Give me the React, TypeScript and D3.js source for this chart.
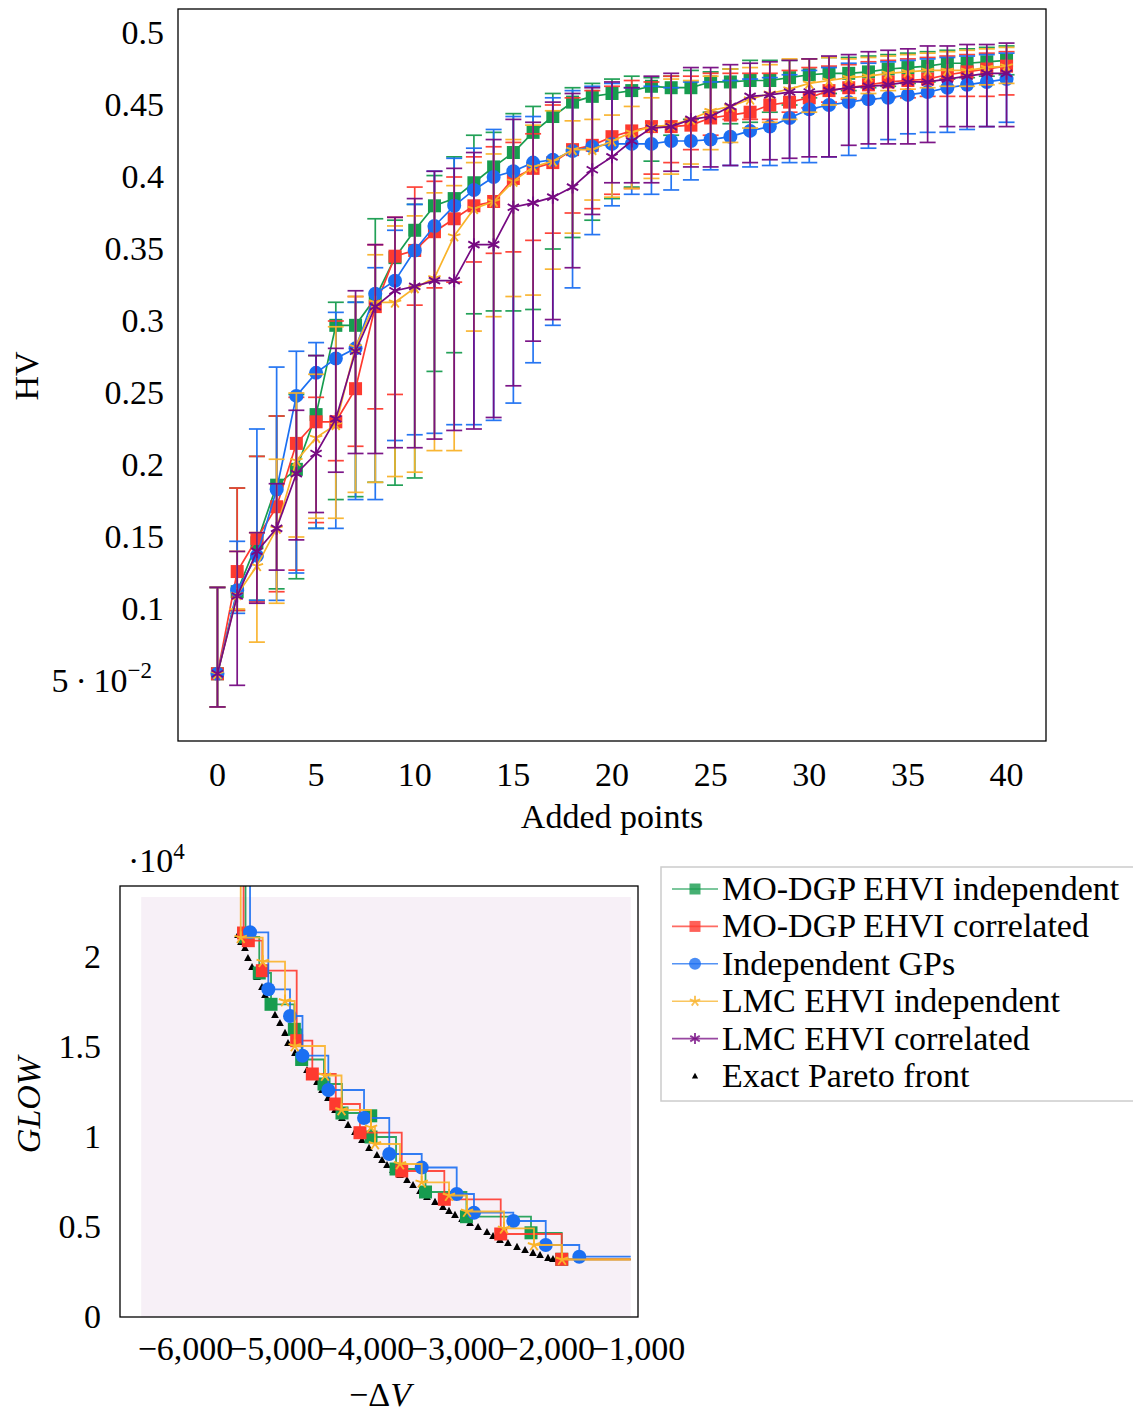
import React from "react";
import * as d3 from "d3";

// ---------- Top chart data (HV vs added points) ----------
const addedPoints = [0,1,2,3,4,5,6,7,8,9,10,11,12,13,14,15,16,17,18,19,20,21,22,23,24,25,26,27,28,29,30,31,32,33,34,35,36,37,38,39,40];

const dgpIndepMean = [0.055,0.112,0.146,0.186,0.197,0.235,0.297,0.297,0.316,0.344,0.363,0.380,0.385,0.396,0.407,0.417,0.431,0.442,0.452,0.456,0.458,0.460,0.463,0.462,0.462,0.466,0.466,0.467,0.467,0.469,0.471,0.472,0.472,0.473,0.475,0.476,0.477,0.479,0.479,0.480,0.481];
const dgpIndepLow = [0.032,0.099,0.106,0.114,0.121,0.156,0.176,0.178,0.188,0.186,0.191,0.265,0.278,0.305,0.307,0.307,0.308,0.350,0.358,0.370,0.385,0.393,0.411,0.429,0.440,0.445,0.437,0.438,0.445,0.450,0.455,0.458,0.460,0.462,0.463,0.465,0.466,0.468,0.469,0.470,0.471];
const dgpIndepUp = [0.115,0.184,0.206,0.234,0.249,0.276,0.313,0.313,0.371,0.370,0.381,0.401,0.414,0.429,0.431,0.444,0.449,0.458,0.462,0.465,0.468,0.470,0.469,0.470,0.474,0.473,0.475,0.481,0.481,0.481,0.482,0.483,0.483,0.484,0.485,0.486,0.487,0.488,0.489,0.490,0.491];

const dgpCorrMean = [0.055,0.126,0.149,0.171,0.215,0.230,0.230,0.253,0.310,0.345,0.349,0.362,0.371,0.380,0.383,0.399,0.406,0.410,0.419,0.422,0.428,0.432,0.435,0.435,0.436,0.441,0.443,0.445,0.450,0.452,0.455,0.460,0.462,0.464,0.466,0.467,0.468,0.471,0.473,0.475,0.477];
const dgpCorrLow = [0.032,0.099,0.105,0.112,0.127,0.160,0.203,0.213,0.239,0.249,0.311,0.323,0.327,0.341,0.347,0.348,0.356,0.361,0.375,0.378,0.388,0.392,0.402,0.410,0.419,0.429,0.440,0.440,0.440,0.445,0.448,0.452,0.454,0.454,0.455,0.455,0.456,0.456,0.456,0.456,0.457];
const dgpCorrUp = [0.115,0.184,0.206,0.234,0.247,0.247,0.300,0.317,0.353,0.372,0.393,0.397,0.400,0.414,0.421,0.424,0.430,0.450,0.455,0.460,0.463,0.467,0.466,0.470,0.470,0.472,0.472,0.472,0.472,0.474,0.476,0.477,0.478,0.480,0.481,0.482,0.483,0.484,0.485,0.486,0.487];

const indepGpMean = [0.055,0.113,0.137,0.183,0.248,0.264,0.274,0.281,0.319,0.328,0.349,0.366,0.380,0.391,0.400,0.404,0.410,0.412,0.418,0.421,0.423,0.423,0.423,0.425,0.425,0.426,0.428,0.432,0.435,0.441,0.447,0.450,0.452,0.454,0.455,0.457,0.459,0.462,0.464,0.466,0.468];
const indepGpLow = [0.032,0.097,0.106,0.106,0.125,0.156,0.156,0.176,0.176,0.217,0.221,0.222,0.228,0.228,0.231,0.243,0.271,0.297,0.323,0.360,0.380,0.388,0.388,0.391,0.398,0.405,0.408,0.407,0.408,0.410,0.410,0.414,0.415,0.420,0.426,0.430,0.431,0.431,0.433,0.435,0.438];
const indepGpUp = [0.115,0.147,0.225,0.268,0.279,0.285,0.306,0.313,0.337,0.363,0.381,0.404,0.413,0.420,0.433,0.442,0.442,0.455,0.460,0.463,0.465,0.462,0.463,0.462,0.466,0.466,0.467,0.468,0.469,0.471,0.474,0.476,0.479,0.479,0.480,0.481,0.482,0.483,0.484,0.485,0.486];

const lmcIndepMean = [0.055,0.110,0.130,0.156,0.203,0.219,0.228,0.282,0.313,0.313,0.323,0.330,0.359,0.378,0.383,0.397,0.407,0.411,0.419,0.419,0.425,0.431,0.435,0.436,0.440,0.446,0.449,0.454,0.458,0.461,0.465,0.467,0.469,0.470,0.472,0.473,0.474,0.474,0.474,0.476,0.477];
const lmcIndepLow = [0.032,0.100,0.077,0.104,0.150,0.163,0.163,0.181,0.188,0.192,0.195,0.210,0.210,0.293,0.303,0.317,0.318,0.336,0.361,0.384,0.386,0.392,0.399,0.402,0.409,0.419,0.424,0.434,0.438,0.440,0.445,0.450,0.455,0.458,0.460,0.461,0.462,0.463,0.463,0.464,0.465];
const lmcIndepUp = [0.115,0.140,0.153,0.204,0.250,0.263,0.296,0.317,0.346,0.366,0.373,0.389,0.394,0.410,0.416,0.426,0.436,0.446,0.439,0.440,0.443,0.449,0.455,0.468,0.467,0.470,0.475,0.476,0.478,0.482,0.482,0.483,0.482,0.483,0.484,0.485,0.486,0.487,0.488,0.489,0.490];

const lmcCorrMean = [0.055,0.109,0.140,0.156,0.194,0.208,0.232,0.279,0.310,0.321,0.324,0.328,0.328,0.353,0.353,0.379,0.382,0.386,0.393,0.405,0.414,0.425,0.434,0.435,0.440,0.442,0.449,0.456,0.457,0.459,0.459,0.460,0.462,0.463,0.464,0.466,0.466,0.468,0.470,0.472,0.472];
const lmcCorrLow = [0.032,0.047,0.104,0.127,0.148,0.167,0.195,0.208,0.208,0.212,0.212,0.218,0.224,0.225,0.233,0.255,0.286,0.301,0.337,0.374,0.396,0.396,0.396,0.404,0.407,0.407,0.408,0.410,0.412,0.413,0.414,0.414,0.422,0.423,0.423,0.423,0.424,0.435,0.435,0.435,0.435];
const lmcCorrUp = [0.115,0.140,0.153,0.187,0.238,0.276,0.281,0.321,0.353,0.372,0.385,0.404,0.406,0.417,0.426,0.440,0.438,0.452,0.458,0.462,0.466,0.462,0.470,0.472,0.476,0.476,0.478,0.479,0.480,0.481,0.482,0.484,0.485,0.487,0.488,0.489,0.491,0.491,0.492,0.492,0.493];

const topXTicks = [0,5,10,15,20,25,30,35,40];
const topYTicks = [0.05,0.1,0.15,0.2,0.25,0.3,0.35,0.4,0.45,0.5];
const topYTickLabels = ["5·10-2","0.1","0.15","0.2","0.25","0.3","0.35","0.4","0.45","0.5"];

// ---------- Bottom chart data (Pareto fronts) ----------
const dgpIndepDV = [-5336,-5184,-5054,-4796,-4715,-4468,-4269,-3951,-3948,-3671,-3345,-2892,-2178,-1838];
const dgpIndepGLOW = [21111,19111,17372,15983,14306,12944,11333,11178,10000,8222,6944,5572,4678,3206];

const dgpCorrDV = [-5358,-5305,-5150,-4770,-4597,-4338,-4070,-3608,-3137,-2513,-1838];
const dgpCorrGLOW = [21333,20906,19239,15350,13500,11833,10239,8111,6539,4611,3206];

const indepGpDV = [-5286,-5084,-4844,-4706,-4420,-4025,-3746,-3387,-3000,-2809,-2374,-2015,-1644];
const indepGpGLOW = [21372,18206,16722,14517,12611,11056,9056,8306,6833,5794,5333,4000,3350];

const lmcIndepDV = [-5389,-5146,-4899,-4792,-4457,-4274,-3948,-3904,-3627,-3387,-3085,-2886,-2477,-2145,-1835];
const lmcIndepGLOW = [21072,19739,17556,15056,13417,11500,10539,9611,8500,7483,6750,5861,4928,4000,3194];

const paretoDV = [-5419,-5386,-5342,-5309,-5264,-5209,-5154,-5121,-5065,-5010,-4955,-4899,-4866,-4789,-4711,-4656,-4590,-4545,-4490,-4424,-4346,-4269,-4202,-4125,-4048,-3970,-3882,-3826,-3771,-3705,-3627,-3550,-3483,-3406,-3329,-3240,-3152,-3085,-3019,-2941,-2853,-2764,-2665,-2598,-2521,-2433,-2333,-2244,-2156,-2078,-1990,-1935];
const paretoGLOW = [21222,20833,20500,19944,19444,18889,18333,17889,17278,16778,16333,15778,15222,14667,14167,13722,13333,13056,12611,12167,11500,11056,10667,10278,9833,9389,9000,8722,8444,8167,7889,7611,7333,7000,6667,6389,6111,5889,5667,5444,5222,5000,4722,4500,4278,4111,3889,3722,3556,3444,3278,3222];

const refPoint = [-1075, 23330];
const bottomXTicks = [-6000,-5000,-4000,-3000,-2000,-1000];
const bottomYTicks = [0,5000,10000,15000,20000];
const bottomYTickLabels = ["0","0.5","1","1.5","2"];

const COLORS = {
  green: "#179c4f",
  red: "#fe3a2f",
  blue: "#1b6ff2",
  yellow: "#f9b32a",
  purple: "#760a82",
};

const FONT = "'Liberation Serif', 'Times New Roman', serif";
const FS = 34;

type MarkerKind = "square" | "circle" | "star" | "asterisk" | "triangle";

function Marker({ kind, x, y, color, size = 12 }: { kind: MarkerKind; x: number; y: number; color: string; size?: number }) {
  const h = size / 2;
  if (kind === "square") return <rect x={x - h} y={y - h} width={size} height={size} fill={color} />;
  if (kind === "circle") return <circle cx={x} cy={y} r={h + 0.5} fill={color} />;
  if (kind === "triangle") {
    return <path d={`M${x},${y - h * 0.75}L${x + h * 0.7},${y + h * 0.55}L${x - h * 0.7},${y + h * 0.55}Z`} fill="#000" />;
  }
  if (kind === "star") {
    let d = "";
    for (let k = 0; k < 5; k++) {
      const a = -Math.PI / 2 + (k * 2 * Math.PI) / 5;
      d += `M${x},${y}L${x + h * Math.cos(a)},${y + h * Math.sin(a)}`;
    }
    return <path d={d} stroke={color} strokeWidth={1.9} fill="none" />;
  }
  let d = "";
  for (let k = 0; k < 3; k++) {
    const a = -Math.PI / 2 + (k * Math.PI) / 3;
    d += `M${x - h * Math.cos(a)},${y - h * Math.sin(a)}L${x + h * Math.cos(a)},${y + h * Math.sin(a)}`;
  }
  return <path d={d} stroke={color} strokeWidth={1.9} fill="none" />;
}

const topSeries = [
  { name: "MO-DGP EHVI independent", color: COLORS.green, marker: "square" as MarkerKind, mean: dgpIndepMean, low: dgpIndepLow, up: dgpIndepUp },
  { name: "MO-DGP EHVI correlated", color: COLORS.red, marker: "square" as MarkerKind, mean: dgpCorrMean, low: dgpCorrLow, up: dgpCorrUp },
  { name: "Independent GPs", color: COLORS.blue, marker: "circle" as MarkerKind, mean: indepGpMean, low: indepGpLow, up: indepGpUp },
  { name: "LMC EHVI independent", color: COLORS.yellow, marker: "star" as MarkerKind, mean: lmcIndepMean, low: lmcIndepLow, up: lmcIndepUp },
  { name: "LMC EHVI correlated", color: COLORS.purple, marker: "asterisk" as MarkerKind, mean: lmcCorrMean, low: lmcCorrLow, up: lmcCorrUp },
];

const bottomSeries = [
  { color: COLORS.green, marker: "square" as MarkerKind, dv: dgpIndepDV, glow: dgpIndepGLOW },
  { color: COLORS.red, marker: "square" as MarkerKind, dv: dgpCorrDV, glow: dgpCorrGLOW },
  { color: COLORS.blue, marker: "circle" as MarkerKind, dv: indepGpDV, glow: indepGpGLOW },
  { color: COLORS.yellow, marker: "star" as MarkerKind, dv: lmcIndepDV, glow: lmcIndepGLOW },
];

export default function App() {
  // top chart frame
  const T = { l: 178, r: 1046, t: 9, b: 741 };
  const xT = d3.scaleLinear().domain([-2, 42]).range([T.l, T.r]);
  const yT = d3.scaleLinear().domain([0.05, 0.5]).range([681, 33]);

  // bottom chart frame
  const B = { l: 120, r: 638, t: 886, b: 1317 };
  const xB = d3.scaleLinear().domain([-6000, -1000]).range([185.5, 637.5]);
  const yB = d3.scaleLinear().domain([0, 10000]).range([1317, 1137]);

  const lineT = d3.line<number>().x((_, i) => xT(addedPoints[i])).y((d) => yT(d));
  const stepLine = d3.line<[number, number]>().x((d) => xB(d[0])).y((d) => yB(d[1])).curve(d3.curveStepAfter);

  const fmtK = (v: number) => d3.format(",")(v).replace("-", "−");

  const legendRows = [
    { label: "MO-DGP EHVI independent", color: COLORS.green, marker: "square" as MarkerKind },
    { label: "MO-DGP EHVI correlated", color: COLORS.red, marker: "square" as MarkerKind },
    { label: "Independent GPs", color: COLORS.blue, marker: "circle" as MarkerKind },
    { label: "LMC EHVI independent", color: COLORS.yellow, marker: "star" as MarkerKind },
    { label: "LMC EHVI correlated", color: COLORS.purple, marker: "asterisk" as MarkerKind },
    { label: "Exact Pareto front", color: "#000", marker: "triangle" as MarkerKind },
  ];

  return (
    <svg width={1133} height={1412} style={{ position: "absolute", left: 0, top: 0, background: "#fff" }} fontFamily={FONT}>
      <defs>
        <clipPath id="clipTop"><rect x={T.l} y={T.t} width={T.r - T.l} height={T.b - T.t} /></clipPath>
        <clipPath id="clipBot"><rect x={B.l} y={B.t} width={B.r - B.l} height={B.b - B.t} /></clipPath>
      </defs>

      {/* ---------------- TOP CHART ---------------- */}
      <g clipPath="url(#clipTop)">
        {topSeries.map((s) => (
          <g key={s.name}>
            {addedPoints.map((p, i) => {
              const x = xT(p);
              return (
                <g key={i} stroke={s.color} strokeWidth={1.7} opacity={0.95}>
                  <line x1={x} x2={x} y1={yT(s.low[i])} y2={yT(s.up[i])} />
                  <line x1={x - 8} x2={x + 8} y1={yT(s.low[i])} y2={yT(s.low[i])} />
                  <line x1={x - 8} x2={x + 8} y1={yT(s.up[i])} y2={yT(s.up[i])} />
                </g>
              );
            })}
            <path d={lineT(s.mean) || ""} fill="none" stroke={s.color} strokeWidth={1.7} />
            {addedPoints.map((p, i) => (
              <Marker key={"m" + i} kind={s.marker} x={xT(p)} y={yT(s.mean[i])} color={s.color} size={13} />
            ))}
          </g>
        ))}
      </g>
      <rect x={T.l} y={T.t} width={T.r - T.l} height={T.b - T.t} fill="none" stroke="#000" strokeWidth={1.3} />
      {topXTicks.map((t) => (
        <text key={t} x={xT(t)} y={786} fontSize={FS} textAnchor="middle">{t}</text>
      ))}
      {topYTicks.map((t, i) =>
        i === 0 ? (
          <text key={t} x={152} y={yT(t) + 11} fontSize={FS} textAnchor="end">
            5{"\u2009·\u2009"}10
            <tspan fontSize={23} dy={-14}>−2</tspan>
          </text>
        ) : (
          <text key={t} x={164} y={yT(t) + 11} fontSize={FS} textAnchor="end">{topYTickLabels[i]}</text>
        )
      )}
      <text x={612} y={828} fontSize={FS} textAnchor="middle">Added points</text>
      <text transform={`translate(38,376) rotate(-90)`} fontSize={FS} textAnchor="middle">HV</text>

      {/* ---------------- BOTTOM CHART ---------------- */}
      <rect x={xB(-6490)} y={yB(refPoint[1])} width={xB(refPoint[0]) - xB(-6490)} height={yB(0) - yB(refPoint[1])} fill="#f7f0f7" />
      <g clipPath="url(#clipBot)">
        {paretoDV.map((v, i) => (
          <Marker key={"p" + i} kind="triangle" x={xB(v)} y={yB(paretoGLOW[i])} color="#000" size={11} />
        ))}
        {bottomSeries.map((s, si) => {
          const pts: [number, number][] = [[s.dv[0], 30000]];
          s.dv.forEach((v, i) => pts.push([v, s.glow[i]]));
          pts.push([refPoint[0], s.glow[s.glow.length - 1]]);
          return (
            <g key={si}>
              <path d={stepLine(pts) || ""} fill="none" stroke={s.color} strokeWidth={1.8} opacity={0.9} />
              {s.dv.map((v, i) => (
                <Marker key={i} kind={s.marker} x={xB(v)} y={yB(s.glow[i])} color={s.color} size={13} />
              ))}
            </g>
          );
        })}
      </g>
      <rect x={B.l} y={B.t} width={B.r - B.l} height={B.b - B.t} fill="none" stroke="#000" strokeWidth={1.3} />
      {bottomXTicks.map((t) => (
        <text key={t} x={xB(t)} y={1360} fontSize={FS} textAnchor="middle">{fmtK(t)}</text>
      ))}
      {bottomYTicks.map((t, i) => (
        <text key={t} x={101} y={yB(t) + 11} fontSize={FS} textAnchor="end">{bottomYTickLabels[i]}</text>
      ))}
      <text x={128} y={872} fontSize={FS}>
        ·10<tspan fontSize={23} dy={-13}>4</tspan>
      </text>
      <text x={380} y={1406} fontSize={FS} textAnchor="middle">
        −Δ<tspan fontStyle="italic">V</tspan>
      </text>
      <text transform={`translate(40,1105) rotate(-90)`} fontSize={FS} textAnchor="middle" fontStyle="italic">GLOW</text>

      {/* ---------------- LEGEND ---------------- */}
      <rect x={661} y={867} width={490} height={234} fill="#fff" stroke="#cccccc" strokeWidth={1.5} />
      {legendRows.map((r, i) => {
        const y = 889 + i * 37.4;
        return (
          <g key={r.label}>
            {r.marker !== "triangle" && (
              <line x1={672} x2={718} y1={y} y2={y} stroke={r.color} strokeWidth={1.6} opacity={0.75} />
            )}
            <g opacity={r.marker === "triangle" ? 1 : 0.8}>
              <Marker kind={r.marker} x={695} y={y} color={r.color} size={r.marker === "triangle" ? 9 : 11} />
            </g>
            <text x={722} y={y + 11} fontSize={FS}>{r.label}</text>
          </g>
        );
      })}
    </svg>
  );
}
